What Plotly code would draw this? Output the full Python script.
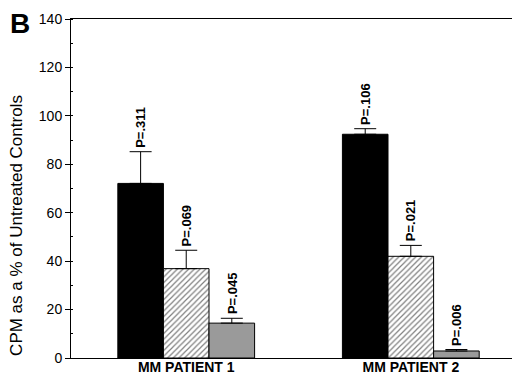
import plotly.graph_objects as go

categories = ["MM PATIENT 1", "MM PATIENT 2"]
series_names = ["Treatment A", "Treatment B", "Treatment C"]
values_a = [72.1, 92.4]
errors_a = [13.1, 2.3]
values_b = [36.9, 42.0]
errors_b = [7.6, 4.5]
values_c = [14.4, 2.9]
errors_c = [2.0, 0.6]
pvals_a = ["P=.311", "P=.106"]
pvals_b = ["P=.069", "P=.021"]
pvals_c = ["P=.045", "P=.006"]

FONT = "Liberation Sans, Arial, sans-serif"
xpos = list(range(len(categories)))
bargap = 0.391
bw = (1 - bargap) / 3

fig = go.Figure()
styles = [
    dict(color="black", pattern=None),
    dict(color="white", pattern=dict(shape="/", fgcolor="black", bgcolor="white", size=4, solidity=0.3)),
    dict(color="#9a9a9a", pattern=None),
]
series = [(values_a, errors_a, pvals_a), (values_b, errors_b, pvals_b), (values_c, errors_c, pvals_c)]
for i, ((vals, errs, pv), st) in enumerate(zip(series, styles)):
    marker = dict(color=st["color"], line=dict(color="black", width=1))
    if st["pattern"]:
        marker["pattern"] = st["pattern"]
    fig.add_trace(go.Bar(
        x=xpos, y=vals, name=series_names[i], marker=marker,
        error_y=dict(type="data", array=errs, arrayminus=[0] * len(errs), symmetric=False,
                     color="black", thickness=1, width=11),
    ))
    off = (i - 1) * bw
    for xi, v, e, t in zip(xpos, vals, errs, pv):
        fig.add_annotation(x=xi + off, y=v + e, text="<b>%s</b>" % t, textangle=-90, showarrow=False,
                           xanchor="center", yanchor="bottom", yshift=2,
                           font=dict(family=FONT, size=13, color="black"))

fig.add_annotation(xref="paper", yref="paper", x=-0.112, y=0.988, xanchor="center", yanchor="middle",
                   text="<b>B</b>", showarrow=False, font=dict(family=FONT, size=28, color="black"))
fig.add_annotation(xref="paper", yref="paper", x=-0.119, y=0.39, xanchor="center", yanchor="middle",
                   text="CPM as a % of Untreated Controls", textangle=-90, showarrow=False,
                   font=dict(family=FONT, size=17, color="black"))

fig.update_layout(
    width=520, height=374, margin=dict(l=63, r=3, t=9, b=24),
    plot_bgcolor="white", paper_bgcolor="white", showlegend=False,
    barmode="group", bargap=bargap, bargroupgap=0,
    font=dict(family=FONT, color="black"),
)
fig.update_xaxes(range=[-0.513, 1.504], tickvals=xpos,
                 ticktext=["<b>%s</b>" % c for c in categories],
                 tickfont=dict(family=FONT, size=14), ticks="", showgrid=False,
                 ticklabelstandoff=-4,
                 showline=True, linecolor="black", linewidth=1, mirror=True, zeroline=False)
fig.update_yaxes(range=[0, 140], dtick=20, ticks="outside", ticklen=5, tickcolor="black",
                 tickfont=dict(family=FONT, size=14), showgrid=False,
                 minor=dict(dtick=10, ticks="inside", ticklen=2, tickcolor="black"),
                 showline=True, linecolor="black", linewidth=1, mirror=True, zeroline=False)

fig.write_html("out.html")
